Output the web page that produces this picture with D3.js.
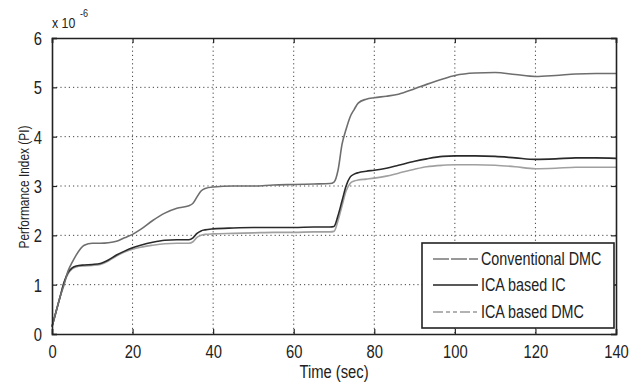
<!DOCTYPE html>
<html><head><meta charset="utf-8">
<script src="https://cdn.jsdelivr.net/npm/d3@7"></script>
<style>
body{margin:0;background:#fff;}
text{font-family:"Liberation Sans",Arial,sans-serif;fill:#222;}
</style></head>
<body><svg id="c" width="644" height="385"></svg>
<script>
const times = [0,1,2,3,4,5,6,8,10,12,14,16,18,20,22,25,28,31,34,35,36,37,38,40,45,50,55,60,65,69,70,71,72,73,74,75,76,78,80,83,86,90,93,97,100,105,110,115,120,125,130,135,140];
const conventionalDMC = [0.15,0.45,0.75,1.0,1.28,1.45,1.6,1.8,1.84,1.84,1.85,1.88,1.95,2.02,2.12,2.3,2.45,2.55,2.6,2.65,2.78,2.9,2.95,2.98,3.0,3.0,3.02,3.03,3.04,3.05,3.08,3.32,3.85,4.15,4.4,4.55,4.68,4.76,4.79,4.82,4.86,4.97,5.06,5.17,5.24,5.29,5.3,5.26,5.22,5.24,5.27,5.28,5.28];
const icaBasedIC = [0.15,0.45,0.75,1.05,1.25,1.34,1.38,1.4,1.41,1.43,1.5,1.6,1.68,1.75,1.8,1.86,1.9,1.91,1.91,1.95,2.04,2.09,2.11,2.13,2.15,2.16,2.16,2.16,2.17,2.17,2.18,2.4,2.7,3.0,3.18,3.24,3.27,3.3,3.32,3.36,3.42,3.5,3.55,3.6,3.61,3.61,3.6,3.57,3.54,3.55,3.57,3.57,3.56];
const icaBasedDMC = [0.15,0.45,0.75,1.05,1.22,1.32,1.36,1.38,1.39,1.41,1.48,1.58,1.66,1.72,1.76,1.8,1.83,1.84,1.84,1.87,1.96,2.0,2.02,2.03,2.04,2.05,2.06,2.06,2.07,2.07,2.08,2.3,2.6,2.9,3.05,3.1,3.12,3.14,3.16,3.2,3.26,3.34,3.39,3.42,3.43,3.43,3.42,3.39,3.35,3.36,3.38,3.38,3.38];
const seriesNames = ["Conventional DMC","ICA based IC","ICA based DMC"];
const xTicks = [0,20,40,60,80,100,120,140];
const yTicks = [0,1,2,3,4,5,6];
const xLabel = "Time (sec)";
const yLabel = "Performance Index (PI)";

const svg = d3.select("#c");
const L=52, R=616, T=38, B=334;
const x = d3.scaleLinear().domain([0,140]).range([L,R]);
const y = d3.scaleLinear().domain([0,6]).range([B,T]);

// grid
const g = svg.append("g");
g.selectAll(".gx").data(xTicks.slice(1,-1)).enter().append("line")
 .attr("x1",d=>x(d)).attr("x2",d=>x(d)).attr("y1",T).attr("y2",B)
 .attr("stroke","#444").attr("stroke-width",1).attr("stroke-dasharray","1.2,3");
g.selectAll(".gy").data(yTicks.slice(1,-1)).enter().append("line")
 .attr("y1",d=>y(d)).attr("y2",d=>y(d)).attr("x1",L).attr("x2",R)
 .attr("stroke","#444").attr("stroke-width",1).attr("stroke-dasharray","1.2,3");

// lines
const series = [
 {vals:conventionalDMC, color:"#6e6e6e", w:1.6},
 {vals:icaBasedIC, color:"#2a2a2a", w:1.6},
 {vals:icaBasedDMC, color:"#a0a0a0", w:1.6}
];
const line = d3.line().x((d,i)=>x(times[i])).y(d=>y(d)).curve(d3.curveMonotoneX);
series.slice().reverse().forEach(s=>{
 svg.append("path").datum(s.vals).attr("d",line).attr("fill","none")
  .attr("stroke",s.color).attr("stroke-width",s.w);
});

// axes
const fs = 18;
const ax = svg.append("g").attr("transform",`translate(0,${B})`)
 .call(d3.axisBottom(x).tickValues(xTicks).tickSize(-5).tickPadding(11).tickFormat(d3.format("d")));
const ay = svg.append("g").attr("transform",`translate(${L},0)`)
 .call(d3.axisLeft(y).tickValues(yTicks).tickSize(-5).tickPadding(10).tickFormat(d3.format("d")));
const at = svg.append("g").attr("transform",`translate(0,${T})`)
 .call(d3.axisTop(x).tickValues(xTicks).tickSize(-5).tickFormat(""));
const ar = svg.append("g").attr("transform",`translate(${R},0)`)
 .call(d3.axisRight(y).tickValues(yTicks).tickSize(-5).tickFormat(""));
[ax,ay,at,ar].forEach(a=>{
 a.select(".domain").attr("stroke","#222").attr("stroke-width",1.6);
 a.selectAll(".tick line").attr("stroke","#222").attr("stroke-width",1.2);
 a.selectAll("text").attr("font-family",null).style("font-size",fs+"px").attr("fill","#222");
});
ay.selectAll("text").attr("dy","0.36em");

// multiplier
svg.append("text").attr("x",L).attr("y",28).style("font-size","15px").text("x 10");
svg.append("text").attr("x",L+28).attr("y",17).style("font-size","11px").text("-6");

// axis labels
svg.append("text").attr("x",(L+R)/2).attr("y",378).attr("text-anchor","middle").style("font-size","18px").text(xLabel);
svg.append("text").attr("transform",`translate(29,187) rotate(-90)`).attr("text-anchor","middle").style("font-size","14.5px").text(yLabel);

// legend
const lg = svg.append("g");
lg.append("rect").attr("x",422).attr("y",243).attr("width",192).attr("height",85)
 .attr("fill","#fff").attr("stroke","#222").attr("stroke-width",1.6);
const styles = [
 {color:"#333", dash:"16,2", w:1.2},
 {color:"#222", dash:null, w:1.4},
 {color:"#999", dash:"10,3,4,3,4,3", w:1.4}
];
const rowsY = [259,285,312];
seriesNames.forEach((n,i)=>{
 const l = lg.append("line").attr("x1",433).attr("x2",478).attr("y1",rowsY[i]).attr("y2",rowsY[i])
  .attr("stroke",styles[i].color).attr("stroke-width",styles[i].w);
 if(styles[i].dash) l.attr("stroke-dasharray",styles[i].dash);
 lg.append("text").attr("x",481).attr("y",rowsY[i]).attr("dy","0.36em").style("font-size","17.5px").text(n);
});

// condense all text to mimic a narrow face
svg.selectAll("text").each(function(){
 const len = this.getComputedTextLength();
 if (len>0) d3.select(this).attr("textLength",len*0.82).attr("lengthAdjust","spacingAndGlyphs");
});
</script></body></html>
